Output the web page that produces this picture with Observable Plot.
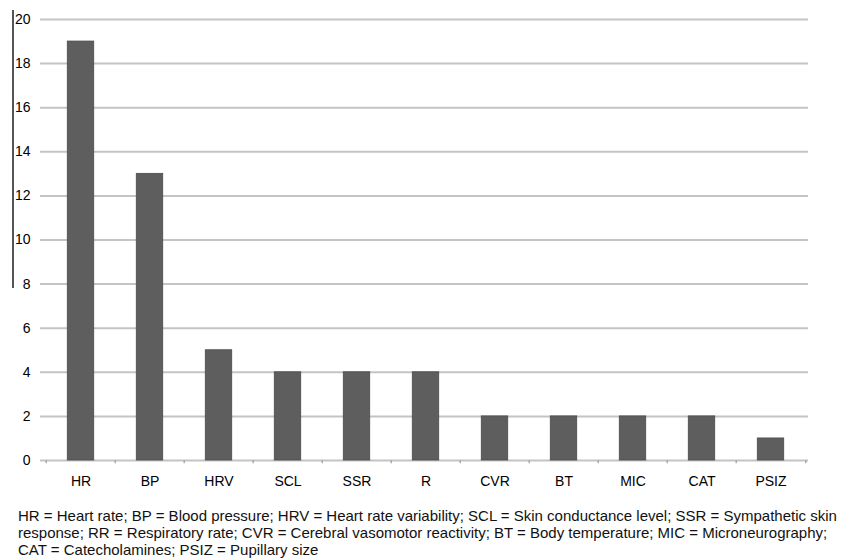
<!DOCTYPE html>
<html>
<head>
<meta charset="utf-8">
<script src="https://cdn.jsdelivr.net/npm/d3@7"></script>
<script src="https://cdn.jsdelivr.net/npm/@observablehq/plot@0.6"></script>
<style>
  html, body { margin: 0; padding: 0; background: #fff; }
  #wrap { position: relative; width: 843px; height: 559px; overflow: hidden; font-family: "Liberation Sans", Arial, sans-serif; }
  #artifact { position: absolute; left: 12px; top: 10px; width: 2px; height: 278px; background: #555; }
  #caption { position: absolute; left: 18px; top: 508px; width: 825px; font-size: 15px; line-height: 16.8px; color: #111; white-space: nowrap; overflow: hidden; }
</style>
</head>
<body>
<div id="wrap">
  <div id="chart"></div>
  <div id="artifact"></div>
  <div id="caption"></div>
</div>
<script>
const categories = ["HR", "BP", "HRV", "SCL", "SSR", "R", "CVR", "BT", "MIC", "CAT", "PSIZ"];
const counts = [19, 13, 5, 4, 4, 4, 2, 2, 2, 2, 1];
const yTicks = [0, 2, 4, 6, 8, 10, 12, 14, 16, 18, 20];
const captionLines = [
  "HR = Heart rate; BP = Blood pressure; HRV = Heart rate variability; SCL = Skin conductance level; SSR = Sympathetic skin",
  "response; RR = Respiratory rate; CVR = Cerebral vasomotor reactivity; BT = Body temperature; MIC = Microneurography;",
  "CAT = Catecholamines; PSIZ = Pupillary size"
];

const data = categories.map((c, i) => ({cat: c, n: counts[i]}));

const W = 843, H = 500, mL = 43, mR = 35, mT = 19, mB = 40;
const bandW = (W - mL - mR) / categories.length;
const barInset = (bandW - 27) / 2;
const grey = "#c4c4c4";

const chart = Plot.plot({
  width: W,
  height: H,
  marginLeft: mL,
  marginRight: mR,
  marginTop: mT,
  marginBottom: mB,
  style: {fontFamily: "'Liberation Sans', Arial, sans-serif", fontSize: "14px", color: "#000", background: "#fff"},
  x: {domain: categories, padding: 0, label: null},
  y: {domain: [0, 20], label: null},
  marks: [
    Plot.ruleY(yTicks, {stroke: grey, strokeWidth: 2, insetLeft: -3}),
    Plot.ruleX([0], {frameAnchor: "left", stroke: grey, strokeWidth: 1.5}),
    Plot.barY(data, {x: "cat", y: "n", fill: "#5e5e5e", stroke: "#4a4a4a", strokeWidth: 0.8, insetLeft: barInset, insetRight: barInset}),
    Plot.ruleX(categories, {x: d => d, dx: -bandW / 2, y1: 0, y2: -0.15, stroke: "#aaaaaa", strokeWidth: 1.5}),
    Plot.ruleX(categories.slice(-1), {x: d => d, dx: bandW / 2, y1: 0, y2: -0.15, stroke: "#aaaaaa", strokeWidth: 1.5}),
    Plot.axisY({ticks: yTicks, tickSize: 0, tickPadding: 13, tickFormat: d => d, fontSize: 14, fill: "#000"}),
    Plot.axisX({tickSize: 0, tickPadding: 16, fontSize: 14, fill: "#000"})
  ]
});
document.getElementById("chart").appendChild(chart);

const cap = document.getElementById("caption");
captionLines.forEach(t => { const d = document.createElement("div"); d.textContent = t; cap.appendChild(d); });
</script>
</body>
</html>
